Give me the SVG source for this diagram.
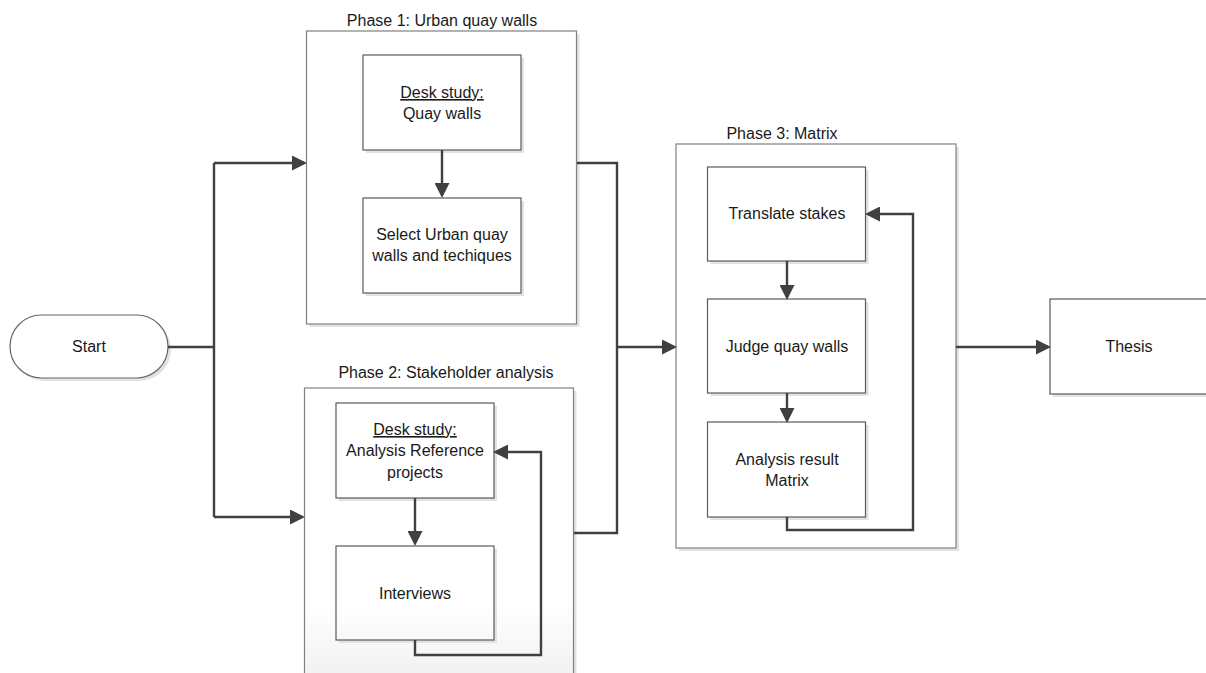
<svg xmlns="http://www.w3.org/2000/svg" width="1206" height="673" viewBox="0 0 1206 673">
  <style>
    text { font-family: "Liberation Sans", Arial, sans-serif; font-size: 16px; fill: #1a1a1a; text-anchor: middle; }
    .u { text-decoration: underline; }
    .outer { fill: #ffffff; stroke: #808080; stroke-width: 1.2; }
    .inner { fill: #ffffff; stroke: #5a5a5a; stroke-width: 1.2; }
    .shadow { fill: #e2e2e2; }
    .conn { fill: none; stroke: #404040; stroke-width: 2.4; }
  </style>
  <defs>
    <marker id="arr" markerWidth="15" markerHeight="15" refX="12" refY="7.5" orient="auto" markerUnits="userSpaceOnUse">
      <path d="M0,0 L15,7.5 L0,15 z" fill="#404040"/>
    </marker>
    <linearGradient id="fade" gradientUnits="userSpaceOnUse" x1="0" y1="605" x2="0" y2="673">
      <stop offset="0" stop-color="#ffffff"/>
      <stop offset="1" stop-color="#f2f2f2"/>
    </linearGradient>
  </defs>

  <rect width="1206" height="673" fill="#ffffff"/>

  <!-- Start terminator -->
  <g id="start">
    <rect x="13" y="318" width="158" height="63" rx="31.5" class="shadow"/>
    <rect x="10" y="315" width="158" height="63" rx="31.5" fill="#ffffff" stroke="#666666" stroke-width="1.2"/>
    <text x="89" y="352">Start</text>
  </g>

  <!-- Phase 1 container -->
  <g id="phase1">
    <rect x="309.5" y="34" width="270" height="293" class="shadow"/>
    <rect x="306.5" y="31" width="270" height="293" class="outer"/>
    <text x="442" y="26">Phase 1: Urban quay walls</text>
  </g>
  <g id="desk-quay">
    <rect x="366" y="58" width="158" height="95" class="shadow"/>
    <rect x="363" y="55" width="158" height="95" class="inner"/>
    <text x="442" y="98" class="u">Desk study:</text>
    <text x="442" y="119">Quay walls</text>
  </g>
  <g id="select-urban">
    <rect x="366" y="201" width="158" height="95" class="shadow"/>
    <rect x="363" y="198" width="158" height="95" class="inner"/>
    <text x="442" y="240">Select Urban quay</text>
    <text x="442" y="261">walls and techiques</text>
  </g>

  <!-- Phase 2 container -->
  <g id="phase2">
    <rect x="307.5" y="391" width="269" height="300" class="shadow"/>
    <rect x="304.5" y="388" width="269" height="300" fill="url(#fade)" stroke="#808080" stroke-width="1.2"/>
    <text x="446" y="378">Phase 2: Stakeholder analysis</text>
  </g>
  <g id="desk-reference">
    <rect x="339" y="406" width="158" height="95" class="shadow"/>
    <rect x="336" y="403" width="158" height="95" class="inner"/>
    <text x="415" y="435" class="u">Desk study:</text>
    <text x="415" y="456">Analysis Reference</text>
    <text x="415" y="478">projects</text>
  </g>
  <g id="interviews">
    <rect x="339" y="549" width="158" height="94" class="shadow"/>
    <rect x="336" y="546" width="158" height="94" fill="url(#fade)" stroke="#5a5a5a" stroke-width="1.2"/>
    <text x="415" y="599">Interviews</text>
  </g>

  <!-- Phase 3 container -->
  <g id="phase3">
    <rect x="679" y="147" width="280" height="404" class="shadow"/>
    <rect x="676" y="144" width="280" height="404" class="outer"/>
    <text x="782" y="139">Phase 3: Matrix</text>
  </g>
  <g id="translate">
    <rect x="710.5" y="170" width="158" height="94" class="shadow"/>
    <rect x="707.5" y="167" width="158" height="94" class="inner"/>
    <text x="787" y="219">Translate stakes</text>
  </g>
  <g id="judge">
    <rect x="710.5" y="302" width="158" height="94" class="shadow"/>
    <rect x="707.5" y="299" width="158" height="94" class="inner"/>
    <text x="787" y="352">Judge quay walls</text>
  </g>
  <g id="result">
    <rect x="710.5" y="425" width="158" height="95" class="shadow"/>
    <rect x="707.5" y="422" width="158" height="95" class="inner"/>
    <text x="787" y="465">Analysis result</text>
    <text x="787" y="486">Matrix</text>
  </g>

  <!-- Thesis -->
  <g id="thesis">
    <rect x="1053" y="302" width="158" height="95" class="shadow"/>
    <rect x="1050" y="299" width="158" height="95" class="inner"/>
    <text x="1129" y="352">Thesis</text>
  </g>

  <!-- Connectors -->
  <g id="connectors">
    <path class="conn" d="M168,347 H214"/>
    <path class="conn" d="M214,163 V517"/>
    <path class="conn" d="M214,163 H304" marker-end="url(#arr)"/>
    <path class="conn" d="M214,517 H302" marker-end="url(#arr)"/>
    <path class="conn" d="M442,150 V195" marker-end="url(#arr)"/>
    <path class="conn" d="M415,498 V543" marker-end="url(#arr)"/>
    <path class="conn" d="M415,640 V655 H541 V452 H496" marker-end="url(#arr)"/>
    <path class="conn" d="M577,163 H617 V533 H574"/>
    <path class="conn" d="M617,347 H674" marker-end="url(#arr)"/>
    <path class="conn" d="M787,261 V297" marker-end="url(#arr)"/>
    <path class="conn" d="M787,393 V420" marker-end="url(#arr)"/>
    <path class="conn" d="M787,517 V530 H913 V214 H868" marker-end="url(#arr)"/>
    <path class="conn" d="M956,347 H1048" marker-end="url(#arr)"/>
  </g>
</svg>
